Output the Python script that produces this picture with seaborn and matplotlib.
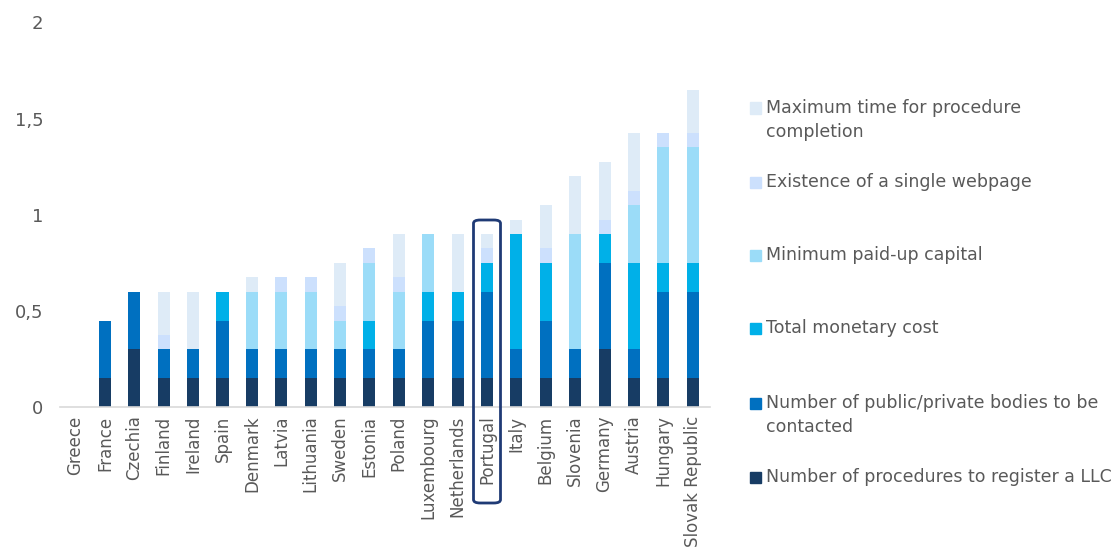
import numpy as np
import pandas as pd
import matplotlib
matplotlib.use("Agg")
import matplotlib.pyplot as plt
from matplotlib.patches import FancyBboxPatch, Rectangle
import seaborn as sns

# data
countries = ["Greece", "France", "Czechia", "Finland", "Ireland", "Spain", "Denmark",
             "Latvia", "Lithuania", "Sweden", "Estonia", "Poland", "Luxembourg",
             "Netherlands", "Portugal", "Italy", "Belgium", "Slovenia", "Germany",
             "Austria", "Hungary", "Slovak Republic"]

procedures = [0, 0.15, 0.3, 0.15, 0.15, 0.15, 0.15, 0.15, 0.15, 0.15, 0.15, 0.15, 0.15,
              0.15, 0.15, 0.15, 0.15, 0.15, 0.3, 0.15, 0.15, 0.15]
bodies = [0, 0.3, 0.3, 0.15, 0.15, 0.3, 0.15, 0.15, 0.15, 0.15, 0.15, 0.15, 0.3,
          0.3, 0.45, 0.15, 0.3, 0.15, 0.45, 0.15, 0.45, 0.45]
monetary = [0, 0, 0, 0, 0, 0.15, 0, 0, 0, 0, 0.15, 0, 0.15,
            0.15, 0.15, 0.6, 0.3, 0, 0.15, 0.45, 0.15, 0.15]
capital = [0, 0, 0, 0, 0, 0, 0.3, 0.3, 0.3, 0.15, 0.3, 0.3, 0.3,
           0, 0, 0, 0, 0.6, 0, 0.3, 0.6, 0.6]
webpage = [0, 0, 0, 0.075, 0, 0, 0, 0.075, 0.075, 0.075, 0.075, 0.075, 0,
           0, 0.075, 0, 0.075, 0, 0.075, 0.075, 0.075, 0.075]
max_time = [0, 0, 0, 0.225, 0.3, 0, 0.075, 0, 0, 0.225, 0, 0.225, 0,
            0.3, 0.075, 0.075, 0.225, 0.3, 0.3, 0.3, 0, 0.225]

series_names = ["Number of procedures to register a LLC",
                "Number of public/private bodies to be\ncontacted",
                "Total monetary cost",
                "Minimum paid-up capital",
                "Existence of a single webpage",
                "Maximum time for procedure\ncompletion"]
series_values = [procedures, bodies, monetary, capital, webpage, max_time]
colors = ["#173c64", "#0070c0", "#00b0e8", "#9bdcf8", "#cce0fd", "#deebf7"]

highlight = "Portugal"

df = pd.DataFrame({"country": countries})
for name, vals in zip(series_names, series_values):
    df[name] = vals
cum = df[series_names].cumsum(axis=1)

fig = plt.figure(figsize=(11.16, 5.57), dpi=100)
ax = fig.add_axes([0.054, 0.269, 0.582, 0.691])

# stacked bars: draw cumulative totals from top series down
for name, col in reversed(list(zip(series_names, colors))):
    sns.barplot(x=df["country"], y=cum[name], color=col, width=0.41,
                saturation=1, linewidth=0, ax=ax, order=countries)

ax.set_ylim(0, 2)
ax.set_xlim(-0.52, 21.58)
ax.set_yticks([0, 0.5, 1, 1.5, 2])
ax.set_yticklabels(["0", "0,5", "1", "1,5", "2"])
ax.set_xlabel("")
ax.set_ylabel("")
for s in ["top", "right", "left"]:
    ax.spines[s].set_visible(False)
ax.spines["bottom"].set_color("#d9d9d9")
ax.spines["bottom"].set_linewidth(1.2)
ax.tick_params(axis="y", length=0, colors="#595959", labelsize=13, pad=12)
ax.tick_params(axis="x", length=0, colors="#595959", labelsize=12, pad=6)
plt.setp(ax.get_xticklabels(), rotation=90)

# highlight box around Portugal
i = countries.index(highlight)
fig.canvas.draw()
xc = ax.transData.transform((i, 0))[0]
box = FancyBboxPatch(((xc - 13.5) / 1116, 1 - 503 / 557), 27 / 1116, 283 / 557,
                     transform=fig.transFigure,
                     boxstyle="round,pad=0,rounding_size=0.006",
                     fill=False, edgecolor="#1f3a75", linewidth=2, clip_on=False)
fig.patches.append(box)

# legend with evenly spaced slots
legend_y = [108, 182, 255, 328, 403, 477]
for yy, name, col in zip(legend_y, reversed(series_names), reversed(colors)):
    fy = 1 - yy / 557
    fig.patches.append(Rectangle((750 / 1116, fy - 5.5 / 557), 11 / 1116, 11 / 557,
                                 transform=fig.transFigure, color=col))
    fig.text(766 / 1116, fy + 9 / 557, name, va="top", ha="left", fontsize=12.5,
             color="#595959", linespacing=1.45)

fig.savefig("out.png", dpi=100)
